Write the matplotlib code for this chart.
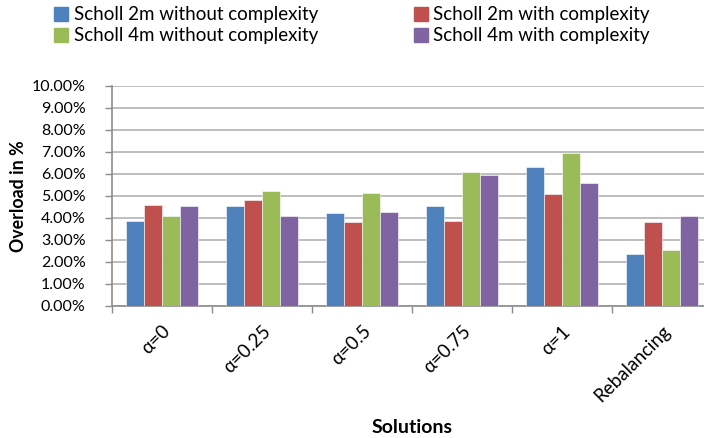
import numpy as np
import matplotlib.pyplot as plt
from matplotlib.patches import Patch
from matplotlib.ticker import FixedLocator, PercentFormatter

plt.rcParams['font.family'] = ['Lato', 'DejaVu Sans']

# Solutions on the x axis
solutions = ['α=0', 'α=0.25', 'α=0.5', 'α=0.75', 'α=1', 'Rebalancing']

# Overload (fraction) per series
s2m_without = [0.0384, 0.0452, 0.0421, 0.0452, 0.0629, 0.0234]
s2m_with = [0.0458, 0.0480, 0.0382, 0.0384, 0.0509, 0.0382]
s4m_without = [0.0409, 0.0520, 0.0511, 0.0608, 0.0695, 0.0255]
s4m_with = [0.0453, 0.0406, 0.0425, 0.0595, 0.0559, 0.0406]

series_names = ['Scholl 2m without complexity', 'Scholl 2m with complexity',
                'Scholl 4m without complexity', 'Scholl 4m with complexity']
series_values = [s2m_without, s2m_with, s4m_without, s4m_with]
colors = ['#4F81BD', '#C0504D', '#9BBB59', '#8064A2']

fig = plt.figure(figsize=(7.04, 4.38), dpi=100)
# plot area runs a little past the right border
ax = fig.add_axes([0.159, 0.302, 0.8525, 0.502])

x = np.arange(len(solutions))
w = 0.18
for i, (vals, col) in enumerate(zip(series_values, colors)):
    ax.bar(x + (i - 1.5) * w, vals, width=w, color=col,
           edgecolor='white', linewidth=0.4, zorder=3)

ax.set_xlim(-0.5, len(solutions) - 0.5)
ax.set_ylim(0, 0.10)
ax.set_yticks(np.arange(0, 0.1001, 0.01))
ax.yaxis.set_major_formatter(PercentFormatter(1.0, decimals=2))
ax.grid(axis='y', color='#B3B3B3', linewidth=1.2, zorder=0)

ax.set_xticks(x)
ax.set_xticklabels(solutions, rotation=45, ha='right', rotation_mode='anchor')
ax.xaxis.set_minor_locator(FixedLocator(np.arange(-0.5, len(solutions), 1.0)))
ax.tick_params(axis='x', which='major', length=0, pad=12, labelsize=13.5)
ax.tick_params(axis='x', which='minor', length=5, color='#8C8C8C', width=1)
ax.tick_params(axis='y', length=5, color='#8C8C8C', width=1, pad=14, labelsize=11.5)

for side in ['top', 'right']:
    ax.spines[side].set_visible(False)
for side in ['left', 'bottom']:
    ax.spines[side].set_color('#8C8C8C')
    ax.spines[side].set_linewidth(1.2)

ax.set_ylabel('Overload in %', fontsize=12.8, fontweight='bold', labelpad=3)
ax.set_xlabel('Solutions', fontsize=14, fontweight='bold', va='center')
ax.xaxis.set_label_coords(0.5, -0.553)

# legend: blue/green in first column, red/purple in second
handles = [Patch(color=colors[k]) for k in (0, 2, 1, 3)]
labels = [series_names[k] for k in (0, 2, 1, 3)]
fig.legend(handles, labels, ncol=2, loc='upper left', bbox_to_anchor=(0.053, 1.024),
           frameon=False, fontsize=13.5, handlelength=0.75, handleheight=0.75,
           handletextpad=0.3, columnspacing=5.1, labelspacing=0.22)

fig.savefig('out.png', dpi=100)
